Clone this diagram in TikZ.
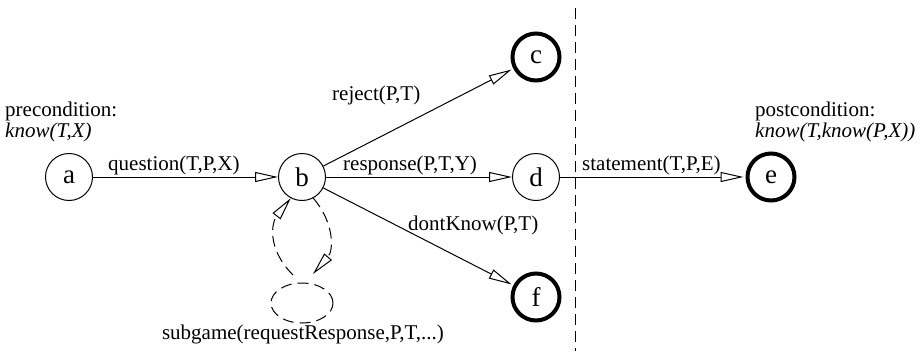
\documentclass[tikz,border=0pt]{standalone}
\usepackage{fontspec}
\setmainfont{Liberation Serif}
\usetikzlibrary{arrows.meta,shapes.geometric}
\begin{document}
\begin{tikzpicture}[x=1pt,y=-1pt,
  every node/.style={font=\fontsize{21}{23}\selectfont},
  st/.style={circle,draw,line width=1pt,minimum size=47pt,inner sep=0pt,font=\fontsize{27}{29}\selectfont},
  fin/.style={circle,draw,line width=4pt,minimum size=47pt,inner sep=0pt,font=\fontsize{27}{29}\selectfont},
  lbl/.style={anchor=base west,inner sep=0pt},
  tr/.style={line width=1pt,-{Triangle[open,length=23pt,width=10pt]}},
  dsh/.style={line width=1pt,dash pattern=on 11pt off 6pt}]
\useasboundingbox (0,0) rectangle (923,351);
% states
\node[st]  (a) at (69,177) {a};
\node[st]  (b) at (302,177) {b};
\node[fin] (c) at (536,57) {c};
\node[st]  (d) at (536,177) {d};
\node[fin] (f) at (536,297) {f};
\node[fin] (e) at (771,177) {e};
\node[draw,ellipse,dsh,minimum width=62pt,minimum height=40pt,inner sep=0pt] (s) at (302,303) {};
% divider
\coordinate (top) at (575,8);
\coordinate (bot) at (575,351);
\draw[dsh] (top) -- (bot);
% transitions
\draw[tr] (a) -- (b);
\draw[tr,shorten >=2pt] (b) -- (c);
\draw[tr] (b) -- (d);
\draw[tr,shorten >=2pt] (b) -- (f);
\draw[tr,shorten >=2pt] (d) -- (e);
% subgame loop
\coordinate (s1) at (293,275);
\coordinate (s2) at (313,274);
\draw[dsh,-{Triangle[open,length=23pt,width=10pt]}] (s1) .. controls (266,248) and (272,222) .. (b.242);
\draw[dsh,-{Triangle[open,length=23pt,width=10pt]}] (b.298) .. controls (334,222) and (334,250) .. (s2);
% labels
\node[lbl] (l1) at (5,116) {precondition:};
\node[lbl] (l2) at (5,137) {\itshape know(T,X)};
\node[lbl] (l3) at (755,116) {postcondition:};
\node[lbl] (l4) at (755,137) {\itshape know(T,know(P,X))};
\node[lbl] (q) at (108,170) {question(T,P,X)};
\node[lbl] (r) at (332,100) {reject(P,T)};
\node[lbl] (rs) at (343,170) {response(P,T,Y)};
\node[lbl] (dk) at (408,230) {dontKnow(P,T)};
\node[lbl] (stm) at (582,170) {statement(T,P,E)};
\node[anchor=base,inner sep=0pt] (sg) at (303,339) {subgame(requestResponse,P,T,...)};
\end{tikzpicture}
\end{document}
